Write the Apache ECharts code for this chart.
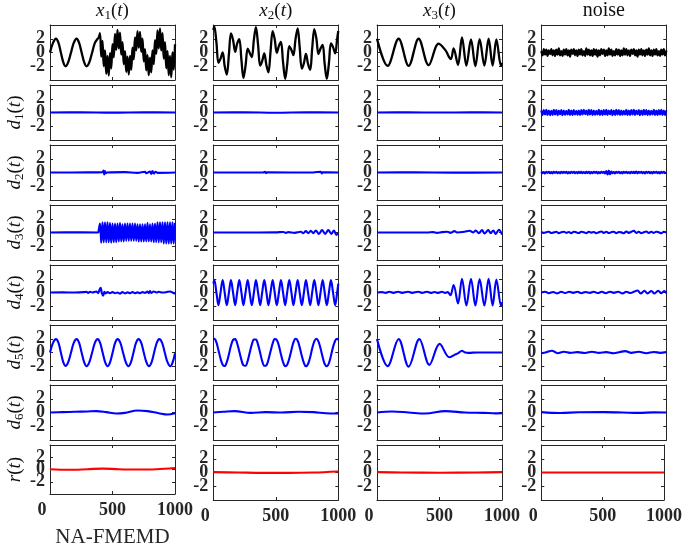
<!DOCTYPE html>
<html><head><meta charset="utf-8">
<script src="https://cdn.jsdelivr.net/npm/echarts@6/dist/echarts.min.js"></script>
<style>html,body{margin:0;padding:0;background:#fff}#c{width:685px;height:550px}</style>
</head><body><div id="c"></div>
<script>
// ---------- tick labels / names ----------
const xTicks = [0, 500, 1000];
const yTicks = [-2, 0, 2];
const colTitleVar = ['x', 'x', 'x', ''];
const colTitleSub = ['1', '2', '3', ''];
const colTitlePlain = ['', '', '', 'noise'];
const rowVar = ['', 'd', 'd', 'd', 'd', 'd', 'd', 'r'];
const rowSub = ['', '1', '2', '3', '4', '5', '6', ''];
const bottomName = 'NA-FMEMD';

// ---------- column 1 ----------
const x1 = [[0,0],[24,1.4],[48,2.0],[68,1.4],[87,0],[106,-1.4],[125,-2.0],[146,-1.4],[168,0],[190,1.4],[213,2.0],[233,1.4],[253,0],[273,-1.4],[293,-2.0],[315,-1.4],[337,0],[359,1.4],[381,2.0],[390,2.2],
[400,2.8],[410,-0.6],[420,1.7],[430,-2.0],[440,0.3],[450,-3.1],[460,-0.5],[470,-3.35],[480,-0.1],[490,-2.3],
[500,1.2],[510,-0.7],[520,2.7],[530,0.4],[540,3.3],[550,0.6],[560,2.9],[570,-0.3],[580,1.5],[590,-1.7],
[600,0.2],[610,-2.8],[620,-0.6],[630,-3.2],[640,-0.5],[650,-2.5],[660,0.7],[670,-1.0],[680,2.2],[690,0.3],
[700,3.1],[710,0.7],[720,3.0],[730,0.1],[740,2.0],[750,-1.3],[760,0.5],[770,-2.6],[780,-0.4],[790,-3.3],
[800,-0.75],[810,-2.9],[820,0.3],[830,-1.7],[840,1.8],[850,-0.2],[860,3.2],[870,0.6],[880,3.5],[890,0.3],
[900,2.8],[910,-0.9],[920,1.5],[930,-2.3],[940,0.2],[950,-3.3],[960,-0.5],[970,-3.6],[980,0.0],[990,-2.5],[1000,1.2]];
const d1_c1 = [[0,0],[250,0.03],[500,-0.02],[750,0.03],[1000,0]];
const d2_c1 = [[0,0],[300,0.02],[420,0.05],[428,0.3],[434,-0.3],[440,0.2],[446,-0.1],[455,0],[600,0.05],[700,-0.05],[760,0.1],[770,-0.1],[800,0.15],[810,-0.2],[820,0.2],[830,-0.15],[845,0.1],[860,-0.05],[1000,0]];
const d3_c1 = [[0,0],[200,0.02],[385,0],[390,0.4],
[400,1.3],[410,-1.5],[420,1.5],[430,-1.4],[440,1.5],[450,-1.4],[460,1.5],[470,-1.4],[480,1.4],[490,-1.5],
[500,1.3],[510,-1.4],[520,1.3],[530,-1.4],[540,1.3],[550,-1.3],[560,1.4],[570,-1.3],[580,1.2],[590,-1.3],
[600,1.3],[610,-1.2],[620,1.3],[630,-1.2],[640,1.3],[650,-1.2],[660,1.3],[670,-1.2],[680,1.3],[690,-1.2],
[700,1.2],[710,-1.3],[720,1.2],[730,-1.3],[740,1.2],[750,-1.3],[760,1.2],[770,-1.3],[780,1.4],[790,-1.3],
[800,1.2],[810,-1.3],[820,1.3],[830,-1.4],[840,1.3],[850,-1.4],[860,1.5],[870,-1.4],[880,1.5],[890,-1.4],
[900,1.5],[910,-1.6],[920,1.5],[930,-1.6],[940,1.5],[950,-1.6],[960,1.5],[970,-1.6],[980,1.5],[990,-1.6],[1000,1.4]];
const d4_c1 = [[0,0],[100,0.02],[200,0],[270,0.05],[290,0.12],[305,-0.05],[320,0.1],[340,0],[370,0.15],[385,-0.1],[395,0.35],[405,0.7],[415,-0.1],[425,-0.45],[435,0.1],[445,-0.15],[460,0.05],[480,-0.1],[500,0.05],[520,-0.1],[540,0],[560,-0.15],[580,0.05],[600,-0.12],[620,0.02],[640,-0.1],[660,0.05],[680,-0.1],[700,0.02],[720,-0.1],[740,0.05],[760,-0.05],[780,0.15],[790,-0.1],[800,0.2],[810,-0.05],[830,0.15],[850,0],[870,0.1],[900,0],[930,0.05],[960,0.15],[980,0],[1000,-0.2]];
const d5_c1 = [[0,0],[24,1.4],[48,1.95],[68,1.4],[87,0],[106,-1.4],[125,-1.95],[146,-1.4],[168,0],[190,1.4],[213,1.95],[233,1.4],[253,0],[273,-1.4],[293,-2.0],[315,-1.4],[337,0],[359,1.4],[381,1.95],[401,1.4],[421,0],[441,-1.4],[461,-2.0],[481,-1.4],[501,0],[521,1.4],[541,1.95],[563,1.4],[584,0],[606,-1.4],[627,-2.0],[648,-1.4],[668,0],[688,1.4],[709,1.95],[730,1.4],[750,0],[771,-1.4],[792,-2.0],[813,-1.4],[833,0],[854,1.4],[875,1.95],[897,1.4],[918,0],[940,-1.4],[963,-2.0],[982,-1.4],[1000,-0.1]];
const d6_c1 = [[0,0],[100,0.05],[200,0.1],[300,0.15],[370,0.2],[450,0.05],[530,-0.15],[600,-0.05],[700,0.3],[780,0.2],[870,-0.1],[940,-0.3],[1000,-0.1]];
const r_c1 = [[0,0.05],[150,-0.05],[300,0.05],[420,0.15],[550,0.05],[700,0],[850,0.05],[1000,0.25]];

// ---------- column 2 ----------
const x2 = [[0,3.26],[8,3.79],[25,1.46],[41,-1.5],[58,-0.89],[75,0.02],[91,-1.97],[108,-3.23],[125,-0.25],[141,2.78],[158,1.83],[175,0.1],[191,1.31],[208,1.95],[225,-1.07],[241,-3.72],[258,-1.93],[275,0.57],[291,-0.04],[308,-0.69],[325,1.9],[341,3.7],[358,1.14],[375,-1.91],[391,-1.24],[408,-0.13],[425,-1.86],[441,-2.9],[458,0.17],[475,3.12],[491,1.96],[508,-0.03],[525,0.96],[541,1.53],[558,-1.4],[575,-3.83],[591,-1.77],[608,0.93],[625,0.37],[641,-0.38],[658,1.99],[675,3.52],[691,0.78],[708,-2.33],[725,-1.54],[741,-0.2],[758,-1.67],[775,-2.53],[791,0.58],[808,3.41],[825,2.0],[841,-0.24],[858,0.58],[875,1.12],[891,-1.67],[908,-3.85],[925,-1.54],[941,1.32],[958,0.78],[975,-0.13],[991,1.99],[1000,3.13]];
const d1_c2 = [[0,0],[250,0.02],[500,-0.03],[750,0.02],[1000,0]];
const d2_c2 = [[0,0],[400,0.02],[415,0.12],[422,-0.1],[430,0.02],[800,0],[860,0.12],[868,-0.12],[876,0.02],[1000,0]];
const d3_c2 = [[0,0],[300,0],[500,0.02],[560,0.08],[580,-0.05],[600,0.05],[650,-0.05],[700,0.1],[720,-0.1],[740,0.2],[760,-0.1],[780,0.25],[800,-0.1],[820,0.3],[845,-0.2],[870,0.35],[895,-0.2],[920,0.35],[945,-0.2],[965,0.3],[985,-0.35],[1000,-0.1]];
const d4_c2 = [[0,1.3],[8,1.8],[25,0],[41,-1.85],[58,0],[75,1.8],[91,0],[108,-1.85],[125,0],[141,1.8],[158,0],[175,-1.85],[191,0],[208,1.8],[225,0],[241,-1.85],[258,0],[275,1.8],[291,0],[308,-1.85],[325,0],[341,1.8],[358,0],[375,-1.85],[391,0],[408,1.8],[425,0],[441,-1.85],[458,0],[475,1.8],[491,0],[508,-1.85],[525,0],[541,1.8],[558,0],[575,-1.85],[591,0],[608,1.8],[625,0],[641,-1.85],[658,0],[675,1.8],[691,0],[708,-1.85],[725,0],[741,1.8],[758,0],[775,-1.85],[791,0],[808,1.8],[825,0],[841,-1.85],[858,0],[875,1.8],[891,0],[908,-1.85],[925,0],[941,1.8],[958,0],[975,-1.85],[991,0],[1000,1.3]];
const d5_c2 = [[0,1.96],[8,1.99],[25,1.46],[41,0.35],[58,-0.89],[75,-1.78],[91,-1.97],[108,-1.38],[125,-0.25],[141,0.98],[158,1.83],[175,1.95],[191,1.31],[208,0.15],[225,-1.07],[241,-1.87],[258,-1.93],[275,-1.23],[291,-0.04],[308,1.16],[325,1.9],[341,1.9],[358,1.14],[375,-0.06],[391,-1.24],[408,-1.93],[425,-1.86],[441,-1.05],[458,0.17],[475,1.32],[491,1.96],[508,1.82],[525,0.96],[541,-0.27],[558,-1.4],[575,-1.98],[591,-1.77],[608,-0.87],[625,0.37],[641,1.47],[658,1.99],[675,1.72],[691,0.78],[708,-0.48],[725,-1.54],[741,-2.0],[758,-1.67],[775,-0.68],[791,0.58],[808,1.61],[825,2.0],[841,1.61],[858,0.58],[875,-0.68],[891,-1.67],[908,-2.0],[925,-1.54],[941,-0.48],[958,0.78],[975,1.72],[991,1.99],[1000,1.83]];
const d6_c2 = [[0,0],[80,0.1],[170,0.2],[300,-0.05],[420,0.05],[550,0],[680,0.1],[800,0.05],[900,-0.1],[1000,-0.15]];
const r_c2 = [[0,0.05],[200,0],[400,-0.05],[600,-0.05],[800,0],[1000,0.15]];

// ---------- column 3 ----------
const x3 = [[0,2.0],[85,-1.95],[173,2.0],[253,-1.95],[333,2.0],[413,-1.85],[493,1.3],[547,0.35],[579,-0.75],[592,-0.95],[613,0.6],[648,-1.8],[680,2.2],[715,-1.9],[752,1.9],[787,-2.0],[821,1.95],[859,-1.9],[893,2.0],[925,-1.9],[955,1.9],[992,-1.95],[1000,-1.5]];
const d1_c3 = [[0,0],[250,0.02],[500,0],[750,0.02],[1000,0]];
const d2_c3 = [[0,0],[300,0.02],[600,-0.02],[1000,0]];
const d3_c3 = [[0,0],[400,0],[450,0.05],[480,-0.05],[520,0.05],[560,0.1],[590,-0.05],[620,0.2],[640,0],[700,0.1],[740,0.25],[770,0],[790,0.3],[815,-0.1],[840,0.35],[860,-0.15],[890,0.35],[910,-0.1],[930,0.3],[950,-0.2],[975,0.4],[1000,-0.3]];
const d4_c3 = [[0,0],[40,0.05],[70,-0.05],[100,0.1],[130,-0.05],[170,0.1],[200,-0.05],[250,0.1],[280,-0.05],[330,0.1],[360,-0.05],[400,0.12],[430,-0.05],[460,0.08],[490,-0.05],[520,0.1],[545,-0.05],[565,0.05],[587,-0.4],[613,1.1],[648,-1.6],[680,2.0],[715,-1.9],[752,2.0],[787,-1.9],[821,1.95],[859,-1.9],[893,2.0],[925,-1.9],[955,1.9],[992,-1.9],[1000,-1.4]];
const d5_c3 = [[0,1.95],[85,-2.0],[173,1.95],[253,-2.05],[339,1.95],[419,-1.8],[501,1.25],[579,-0.7],[620,-0.35],[650,-0.1],[680,0.25],[700,0.05],[733,-0.05],[800,0],[1000,0]];
const d6_c3 = [[0,0],[120,0.15],[253,0],[387,-0.15],[547,0.2],[707,0],[850,-0.05],[950,-0.12],[1000,-0.1]];
const r_c3 = [[0,0.05],[200,0],[500,-0.03],[800,0],[1000,0.05]];

// ---------- column 4 (noise) ----------
const noiseStep = 10;
const noiseVals = [0.2,-0.4,0.5,-0.3,0.4,-0.5,0.3,-0.2,0.5,-0.4,
0.3,-0.5,0.4,-0.3,0.6,-0.4,0.2,-0.5,0.4,-0.3,
0.5,-0.4,0.3,-0.6,0.4,-0.2,0.5,-0.4,0.3,-0.5,
0.4,-0.3,0.5,-0.4,0.2,-0.5,0.6,-0.3,0.4,-0.4,
0.3,-0.5,0.5,-0.3,0.4,-0.6,0.3,-0.4,0.5,-0.2,
0.4,-0.5,0.3,-0.4,0.6,-0.3,0.4,-0.5,0.2,-0.4,
0.5,-0.3,0.4,-0.5,0.3,-0.4,0.6,-0.3,0.5,-0.4,
0.3,-0.5,0.4,-0.2,0.5,-0.4,0.3,-0.6,0.4,-0.3,
0.5,-0.4,0.3,-0.5,0.4,-0.3,0.6,-0.4,0.3,-0.5,
0.4,-0.3,0.5,-0.4,0.2,-0.5,0.4,-0.3,0.5,-0.4,0.3];
const d1n_step = 10;
const d1nVals = [0.3,-0.4,0.35,-0.3,0.4,-0.35,0.3,-0.4,0.25,-0.35,
0.4,-0.3,0.35,-0.4,0.3,-0.25,0.35,-0.4,0.3,-0.35,
0.25,-0.3,0.4,-0.35,0.3,-0.4,0.35,-0.3,0.25,-0.35,
0.3,-0.4,0.35,-0.3,0.4,-0.25,0.3,-0.35,0.4,-0.3,
0.35,-0.4,0.3,-0.35,0.25,-0.3,0.4,-0.35,0.3,-0.4,
0.35,-0.3,0.4,-0.35,0.3,-0.25,0.35,-0.4,0.3,-0.35,
0.4,-0.3,0.35,-0.4,0.3,-0.35,0.25,-0.3,0.4,-0.35,
0.3,-0.4,0.35,-0.3,0.4,-0.35,0.3,-0.25,0.35,-0.4,
0.3,-0.35,0.4,-0.3,0.35,-0.4,0.3,-0.35,0.25,-0.3,
0.4,-0.35,0.3,-0.4,0.35,-0.3,0.4,-0.35,0.3,-0.4,0.3];
const d2n_step = 10;
const d2nVals = [0.15,-0.1,0.05,-0.15,0.1,-0.05,0.12,-0.1,0.08,-0.12,
0.1,-0.05,0.12,-0.1,0.05,-0.12,0.1,-0.08,0.12,-0.05,
0.1,-0.12,0.08,-0.1,0.12,-0.05,0.1,-0.1,0.05,-0.12,
0.1,-0.08,0.12,-0.1,0.05,-0.1,0.12,-0.08,0.1,-0.12,
0.08,-0.1,0.12,-0.05,0.1,-0.12,0.08,-0.1,0.12,-0.05,
0.1,-0.12,0.2,-0.3,0.3,-0.25,0.15,-0.1,0.08,-0.12,
0.1,-0.05,0.12,-0.1,0.08,-0.12,0.1,-0.05,0.12,-0.1,
0.05,-0.12,0.1,-0.08,0.12,-0.1,0.15,-0.12,0.1,-0.05,
0.12,-0.1,0.08,-0.12,0.1,-0.05,0.12,-0.1,0.08,-0.12,
0.1,-0.05,0.12,-0.1,0.08,-0.12,0.1,-0.05,0.12,-0.1,0.05];
const d3n_step = 20;
const d3nVals = [0.1,-0.05,0.05,0.12,-0.08,0.02,0.1,-0.1,0.05,0.12,
-0.05,0.08,-0.1,0.12,0.02,-0.08,0.1,0.05,-0.1,0.12,
-0.02,0.08,-0.1,0.05,0.15,-0.05,0.1,-0.08,0.05,0.12,
-0.1,0.08,0.02,-0.1,0.15,-0.05,0.1,0.25,-0.05,0.12,
-0.1,0.05,0.15,-0.08,0.1,-0.05,0.12,0.02,-0.1,0.1,0.0];
const d4_c4 = [[0,0],[30,0.12],[60,-0.1],[95,0.08],[125,-0.12],[160,0.1],[190,-0.08],[225,0.12],[255,-0.05],[290,0.1],[320,-0.1],[355,0.08],[390,-0.05],[420,0.12],[450,-0.08],[485,0.1],[515,-0.1],[550,0.12],[580,-0.05],[615,0.1],[650,-0.12],[680,0.1],[715,-0.08],[745,0.15],[770,0.3],[795,-0.15],[825,0.25],[850,-0.12],[880,0.22],[905,-0.15],[935,0.25],[960,-0.1],[985,0.22],[1000,-0.1]];
const d5_c4 = [[0,-0.1],[40,0.05],[85,0.25],[130,-0.1],[180,0.1],[230,-0.05],[290,0.05],[350,-0.08],[405,0.12],[460,-0.05],[520,0.05],[580,-0.1],[630,0.08],[672,0.2],[720,-0.05],[780,0.1],[840,-0.1],[900,0.08],[950,-0.05],[1000,0.05]];
const d6_c4 = [[0,0.05],[150,-0.08],[300,0.03],[500,0.05],[650,0],[780,-0.06],[900,0.02],[1000,0]];
const r_c4 = [[0,0],[500,0.01],[1000,0]];

// ---------- build ----------
function stepped(step, vals) { return vals.map((v, i) => [i * step, v]); }
const noise = stepped(noiseStep, noiseVals);
const d1_c4 = stepped(d1n_step, d1nVals);
const d2_c4 = stepped(d2n_step, d2nVals);
const d3_c4 = stepped(d3n_step, d3nVals);

const panels = [
  [x1, x2, x3, noise],
  [d1_c1, d1_c2, d1_c3, d1_c4],
  [d2_c1, d2_c2, d2_c3, d2_c4],
  [d3_c1, d3_c2, d3_c3, d3_c4],
  [d4_c1, d4_c2, d4_c3, d4_c4],
  [d5_c1, d5_c2, d5_c3, d5_c4],
  [d6_c1, d6_c2, d6_c3, d6_c4],
  [r_c1, r_c2, r_c3, r_c4]
];

const SERIF = "'Liberation Serif','DejaVu Serif',serif";
const AX = '#262626';
const colLeft = [50, 213.3, 377, 541.3];
const W = 125, H = 55;
const RICH = {
  i: {fontFamily: SERIF, fontStyle: 'italic', fontSize: 19, lineHeight: 22, color: '#111'},
  p: {fontFamily: SERIF, fontSize: 19, lineHeight: 22, color: '#111'},
  s: {fontFamily: SERIF, fontSize: 13, lineHeight: 13, verticalAlign: 'bottom', color: '#111'},
  n: {fontFamily: SERIF, fontSize: 20, lineHeight: 22, color: '#111'}
};
function mathName(v, sub) {
  return '{i|' + v + '}' + (sub ? '{s|' + sub + '}' : '') + '{p|(}{i|t}{p|)}';
}
const lineColor = r => r === 0 ? '#000000' : (r === 7 ? '#ff0000' : '#0000ff');

const grids = [], xAxes = [], yAxes = [], series = [];
for (let r = 0; r < 8; r++) {
  for (let c = 0; c < 4; c++) {
    const p = r * 4 + c;
    grids.push({left: colLeft[c], top: 25 + 60 * r, width: W, height: H, containLabel: false});
    const common = {
      gridIndex: p, type: 'value', splitLine: {show: false},
      axisLine: {show: true, onZero: false, lineStyle: {color: AX, width: 1}},
      axisTick: {show: true, inside: true, length: 3, lineStyle: {color: AX, width: 1}}
    };
    xAxes.push(Object.assign({}, common, {
      position: 'bottom', min: xTicks[0], max: xTicks[2], interval: xTicks[1] - xTicks[0],
      axisLabel: {
        show: r === 7, showMinLabel: true, showMaxLabel: true, margin: 7,
        fontFamily: SERIF, fontWeight: 'bold', fontSize: 18, color: AX,
        formatter: v => v === 0 ? '{z|0}' : String(v),
        rich: {z: {fontFamily: SERIF, fontWeight: 'bold', fontSize: 18, color: AX, padding: [0, 16, 0, 0]}}
      },
      name: (r === 7 && c === 0) ? bottomName : '',
      nameLocation: 'middle', nameGap: 31,
      nameTextStyle: {fontFamily: SERIF, fontSize: 21, lineHeight: 24, color: AX}
    }));
    let title = '';
    if (r === 0) title = colTitleVar[c] ? mathName(colTitleVar[c], colTitleSub[c]) : '{n|' + colTitlePlain[c] + '}';
    xAxes.push(Object.assign({}, common, {
      position: 'top', min: xTicks[0], max: xTicks[2], interval: xTicks[1] - xTicks[0],
      axisLabel: {show: false},
      name: title, nameLocation: 'middle', nameGap: 3,
      nameTextStyle: {rich: RICH}
    }));
    yAxes.push(Object.assign({}, common, {
      position: 'left', min: -4, max: 4, interval: 2,
      axisLabel: {
        show: true, margin: 5, fontFamily: SERIF, fontWeight: 'bold', fontSize: 18, lineHeight: 16, color: AX,
        formatter: v => yTicks.indexOf(v) >= 0 ? String(v) : ''
      },
      name: (c === 0 && rowVar[r]) ? mathName(rowVar[r], rowSub[r]) : '',
      nameLocation: 'middle', nameRotate: 90, nameGap: 24,
      nameTextStyle: {rich: RICH}
    }));
    yAxes.push(Object.assign({}, common, {
      position: 'right', min: -4, max: 4, interval: 2,
      axisLabel: {show: false}
    }));
    series.push({
      type: 'line', xAxisIndex: 2 * p, yAxisIndex: 2 * p,
      data: panels[r][c], showSymbol: false, symbol: 'none', smooth: 0.35,
      silent: true, clip: true,
      lineStyle: {color: lineColor(r), width: r === 0 ? 2.3 : 2.1},
      itemStyle: {color: lineColor(r)}
    });
  }
}

const chart = echarts.init(document.getElementById('c'), null, {renderer: 'canvas'});
chart.setOption({
  animation: false,
  backgroundColor: '#ffffff',
  grid: grids, xAxis: xAxes, yAxis: yAxes, series: series
});
</script>
</body></html>
